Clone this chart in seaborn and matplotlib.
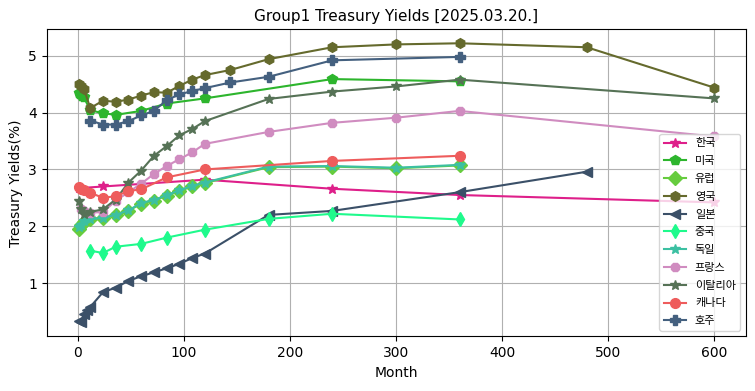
import pandas as pd
import seaborn as sns
import matplotlib
matplotlib.use('Agg')
import matplotlib.pyplot as plt

# 국가별 만기(개월)와 금리(%)
countries = ['한국', '미국', '유럽', '영국', '일본', '중국', '독일', '프랑스', '이탈리아', '캐나다', '호주']

kr_month = [1, 24, 120, 240, 360, 600]
kr_yield = [2.67, 2.70, 2.82, 2.66, 2.55, 2.42]

us_month = [1, 2, 3, 4, 6, 12, 24, 36, 60, 84, 120, 240, 360]
us_yield = [4.34, 4.33, 4.32, 4.30, 4.27, 4.04, 3.99, 3.96, 4.03, 4.16, 4.25, 4.59, 4.55]

eu_month = [1, 3, 6, 12, 24, 36, 48, 60, 72, 84, 96, 108, 120, 180, 240, 300, 360]
eu_yield = [1.95, 2.02, 2.08, 2.12, 2.15, 2.19, 2.27, 2.40, 2.45, 2.54, 2.62, 2.70, 2.76, 3.04, 3.05, 3.02, 3.07]

uk_month = [1, 3, 6, 12, 24, 36, 48, 60, 72, 84, 96, 108, 120, 144, 180, 240, 300, 360, 480, 600]
uk_yield = [4.50, 4.47, 4.42, 4.08, 4.21, 4.19, 4.23, 4.30, 4.36, 4.35, 4.47, 4.58, 4.66, 4.75, 4.94,
            5.15, 5.20, 5.22, 5.15, 4.44]

jp_month = [1, 3, 6, 9, 12, 24, 36, 48, 60, 72, 84, 96, 108, 120, 180, 240, 360, 480]
jp_yield = [0.34, 0.31, 0.45, 0.53, 0.58, 0.84, 0.92, 1.04, 1.12, 1.19, 1.26, 1.34, 1.44, 1.52,
            2.20, 2.27, 2.60, 2.96]

cn_month = [12, 24, 36, 60, 84, 120, 180, 240, 360]
cn_yield = [1.57, 1.53, 1.64, 1.69, 1.80, 1.94, 2.13, 2.22, 2.12]

de_month = [1, 3, 6, 12, 24, 36, 48, 60, 72, 84, 96, 108, 120, 180, 240, 300, 360]
de_yield = [1.98, 2.03, 2.10, 2.12, 2.15, 2.20, 2.28, 2.41, 2.46, 2.55, 2.63, 2.71, 2.77, 3.05, 3.06, 3.03, 3.08]

fr_month = [3, 6, 12, 24, 36, 48, 60, 72, 84, 96, 108, 120, 180, 240, 300, 360, 600]
fr_yield = [2.30, 2.27, 2.24, 2.25, 2.45, 2.60, 2.75, 2.92, 3.06, 3.18, 3.30, 3.45, 3.66, 3.82, 3.91, 4.03, 3.58]

it_month = [1, 3, 6, 12, 24, 36, 48, 60, 72, 84, 96, 108, 120, 180, 240, 300, 360, 600]
it_yield = [2.45, 2.30, 2.22, 2.25, 2.30, 2.47, 2.77, 2.98, 3.24, 3.41, 3.60, 3.71, 3.85, 4.24, 4.37,
            4.46, 4.58, 4.25]

ca_month = [1, 3, 6, 12, 24, 36, 48, 60, 84, 120, 240, 360]
ca_yield = [2.69, 2.66, 2.63, 2.59, 2.50, 2.53, 2.62, 2.65, 2.86, 3.00, 3.15, 3.24]

au_month = [12, 24, 36, 48, 60, 72, 84, 96, 108, 120, 144, 180, 240, 360]
au_yield = [3.86, 3.79, 3.79, 3.85, 3.95, 4.03, 4.22, 4.32, 4.38, 4.43, 4.53, 4.63, 4.92, 4.98]

series = [
    (kr_month, kr_yield), (us_month, us_yield), (eu_month, eu_yield), (uk_month, uk_yield),
    (jp_month, jp_yield), (cn_month, cn_yield), (de_month, de_yield), (fr_month, fr_yield),
    (it_month, it_yield), (ca_month, ca_yield), (au_month, au_yield),
]

colors = ['#de1f8a', '#2db52d', '#66cc3e', '#656a2d', '#3b5068', '#1ffa8c', '#3cc0a2',
          '#d08cc0', '#567256', '#ee5c5c', '#44607f']
markers = ['*', 'p', 'D', 'h', '<', 'd', '*', '8', '*', 'o', 'P']

plt.rcParams['font.family'] = ['DejaVu Sans', 'Noto Sans CJK KR']

fig, ax = plt.subplots(figsize=(7.55, 3.91), dpi=100)

for name, (m, y), c, mk in zip(countries, series, colors, markers):
    df = pd.DataFrame({'Month': m, 'Yield': y})
    sns.lineplot(data=df, x='Month', y='Yield', ax=ax, color=c, marker=mk,
                 markersize=7, markeredgecolor=c, markeredgewidth=1, linewidth=1.5,
                 label=name)

ax.grid(True)
ax.set_title('Group1 Treasury Yields [2025.03.20.]', fontsize=11)
ax.set_xlabel('Month')
ax.set_ylabel('Treasury Yields(%)')
ax.legend(loc='lower right', fontsize=8, labelspacing=0.7)

fig.subplots_adjust(left=0.062, right=0.988, top=0.925, bottom=0.14)
fig.savefig('out.png', dpi=100)
